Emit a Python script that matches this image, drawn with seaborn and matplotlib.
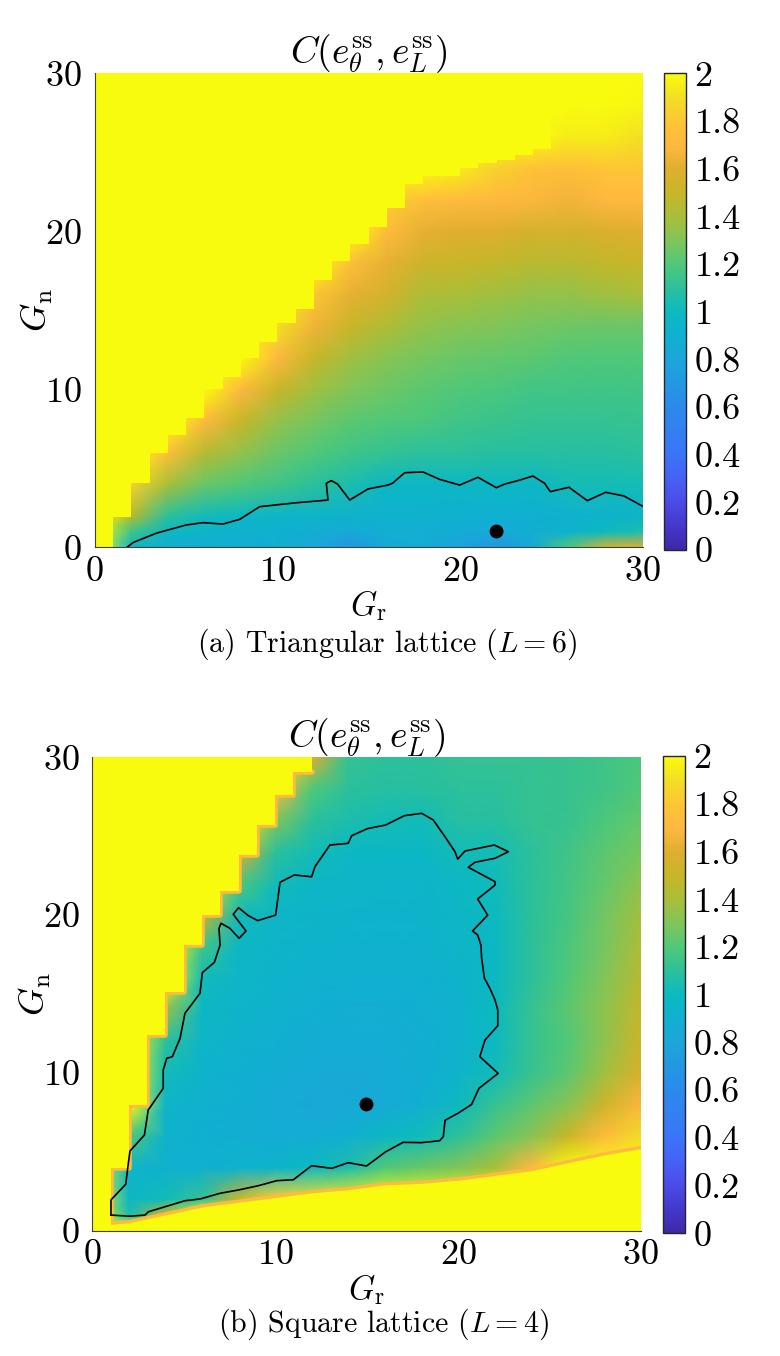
import numpy as np
import matplotlib
matplotlib.use("Agg")
import matplotlib.pyplot as plt
import seaborn as sns
from matplotlib.colors import LinearSegmentedColormap

# grid nodes of the two maps (G_r across, G_n up)
gr_nodes = [0, 2, 4, 6, 8, 10, 12, 14, 16, 18, 20, 22, 24, 26, 28, 30]
gn_nodes = [0, 1, 2, 4, 6, 8, 10, 12, 14, 16, 18, 20, 22, 24, 26, 28, 30]

# C(e_theta, e_L), rows from G_n = 30 (top) down to G_n = 0
c_tri = [
    [2, 2, 2, 2, 2, 2, 2, 2, 2, 2, 2, 2, 2, 2, 2, 2],
    [2, 2, 2, 2, 2, 2, 2, 2, 2, 2, 2, 2, 2, 2, 2, 1.98],
    [2, 2, 2, 2, 2, 2, 2, 2, 2, 2, 2, 2, 2, 1.95, 1.95, 1.9],
    [2, 2, 2, 2, 2, 2, 2, 2, 2, 2, 1.95, 1.85, 1.78, 1.75, 1.8, 1.8],
    [2, 2, 2, 2, 2, 2, 2, 2, 1.85, 1.75, 1.72, 1.7, 1.68, 1.66, 1.7, 1.7],
    [2, 2, 2, 2, 2, 2, 2, 2, 1.72, 1.62, 1.6, 1.6, 1.55, 1.55, 1.58, 1.6],
    [2, 2, 2, 2, 2, 2, 2, 1.75, 1.62, 1.52, 1.5, 1.48, 1.45, 1.45, 1.48, 1.5],
    [2, 2, 2, 2, 2, 2, 1.8, 1.62, 1.55, 1.42, 1.4, 1.38, 1.35, 1.35, 1.38, 1.4],
    [2, 2, 2, 2, 2, 1.9, 1.65, 1.5, 1.42, 1.35, 1.32, 1.3, 1.28, 1.26, 1.25, 1.25],
    [2, 2, 2, 2, 2, 1.7, 1.5, 1.38, 1.32, 1.28, 1.25, 1.24, 1.22, 1.2, 1.2, 1.2],
    [2, 2, 2, 2, 1.7, 1.5, 1.38, 1.3, 1.26, 1.22, 1.2, 1.18, 1.16, 1.16, 1.15, 1.16],
    [2, 2, 2, 1.7, 1.5, 1.35, 1.28, 1.22, 1.2, 1.18, 1.15, 1.14, 1.12, 1.12, 1.12, 1.13],
    [2, 2, 1.75, 1.45, 1.35, 1.25, 1.2, 1.15, 1.12, 1.1, 1.1, 1.08, 1.08, 1.08, 1.08, 1.1],
    [2, 1.85, 1.4, 1.25, 1.2, 1.15, 1.1, 1.05, 0.97, 0.97, 0.97, 0.98, 0.97, 1.03, 1.03, 1.03],
    [2, 1.45, 1.1, 1.02, 0.98, 0.96, 0.94, 0.92, 0.92, 0.92, 0.9, 0.9, 0.9, 0.92, 0.92, 0.94],
    [2, 1.15, 0.97, 0.94, 0.92, 0.9, 0.88, 0.85, 0.88, 0.88, 0.86, 0.85, 0.88, 0.92, 1.0, 1.05],
    [2, 0.95, 0.88, 0.88, 0.88, 0.88, 0.82, 0.68, 0.85, 0.86, 0.78, 0.68, 0.85, 1.2, 1.55, 1.6],
]

c_sq = [
    [2, 2, 2, 2, 2, 2, 1.6, 1.12, 1.1, 1.1, 1.12, 1.12, 1.12, 1.13, 1.15, 1.18],
    [2, 2, 2, 2, 2, 1.7, 1.2, 1.1, 1.08, 1.08, 1.1, 1.1, 1.12, 1.13, 1.15, 1.2],
    [2, 2, 2, 2, 2, 1.3, 1.1, 1.05, 1.03, 1.02, 1.08, 1.08, 1.12, 1.13, 1.18, 1.24],
    [2, 2, 2, 2, 1.6, 1.1, 1.03, 0.98, 0.97, 0.97, 1.02, 1.03, 1.1, 1.15, 1.22, 1.28],
    [2, 2, 2, 2, 1.2, 1.02, 0.97, 0.95, 0.94, 0.94, 0.98, 1.01, 1.1, 1.16, 1.24, 1.33],
    [2, 2, 2, 1.5, 1.02, 0.96, 0.94, 0.93, 0.93, 0.93, 0.96, 1.0, 1.1, 1.17, 1.27, 1.38],
    [2, 2, 2, 1.15, 0.97, 0.94, 0.93, 0.92, 0.92, 0.92, 0.95, 0.98, 1.1, 1.18, 1.28, 1.42],
    [2, 2, 2, 1.02, 0.95, 0.93, 0.91, 0.9, 0.9, 0.9, 0.93, 0.98, 1.1, 1.2, 1.3, 1.45],
    [2, 2, 1.35, 0.98, 0.94, 0.92, 0.89, 0.88, 0.88, 0.89, 0.92, 1.0, 1.12, 1.22, 1.33, 1.48],
    [2, 2, 1.1, 0.95, 0.92, 0.89, 0.87, 0.86, 0.86, 0.88, 0.92, 0.99, 1.12, 1.2, 1.33, 1.52],
    [2, 2, 1.02, 0.93, 0.9, 0.87, 0.85, 0.84, 0.85, 0.88, 0.93, 1.02, 1.13, 1.22, 1.38, 1.56],
    [2, 2, 0.95, 0.91, 0.88, 0.85, 0.83, 0.83, 0.85, 0.89, 0.99, 1.12, 1.22, 1.32, 1.52, 1.68],
    [2, 1.2, 0.93, 0.9, 0.88, 0.86, 0.86, 0.89, 0.97, 1.01, 1.1, 1.22, 1.32, 1.5, 1.72, 1.88],
    [2, 0.95, 0.9, 0.9, 0.92, 0.93, 0.98, 1.05, 1.2, 1.25, 1.3, 1.4, 1.7, 2, 2, 2],
    [2, 0.97, 1.02, 1.12, 1.5, 1.85, 1.9, 1.95, 2, 2, 2, 2, 2, 2, 2, 2],
    [2, 1.05, 1.5, 2, 2, 2, 2, 2, 2, 2, 2, 2, 2, 2, 2, 2],
    [2, 2, 2, 2, 2, 2, 2, 2, 2, 2, 2, 2, 2, 2, 2, 2],
]

# G_n above which column [k, k+1) is saturated (>= 2)
tri_step = [0, 1.94, 4.05, 5.95, 7.1, 8.2, 10.0, 10.8, 12.0, 13.0, 14.2, 15.1, 16.9, 18.1, 19.2,
            20.3, 21.5, 23.0, 23.5, 23.5, 24.0, 24.3, 24.5, 24.8, 25.2]
sq_step = [0, 4.0, 7.95, 12.4, 15.1, 18.1, 20.0, 21.5, 23.8, 25.7, 27.6, 29.1]
# square lattice: saturated below this edge
sq_floor_gr = [0, 1, 2, 4, 6, 8, 10, 12, 14, 16, 18, 20, 22, 24, 26, 28, 30]
sq_floor_gn = [0.4, 0.4, 0.5, 1.0, 1.5, 1.8, 2.1, 2.4, 2.6, 2.9, 3.0, 3.2, 3.5, 3.8, 4.3, 4.8, 5.2]

# C = 1 contour
tri_cont_gr = [1.77, 2.1, 3.37, 5.0, 5.93, 7.02, 7.94, 9.03, 11.04, 12.77, 12.68, 12.95, 13.3, 13.96,
               14.96, 16.05, 16.3, 16.97, 17.97, 18.88, 19.98, 20.98, 21.99, 22.44, 23.17, 23.99,
               24.63, 24.94, 25.96, 26.97, 27.97, 28.97, 29.98]
tri_cont_gn = [0.0, 0.3, 0.89, 1.41, 1.56, 1.47, 1.77, 2.57, 2.82, 2.99, 4.05, 4.22, 4.0, 2.99,
               3.69, 3.94, 4.05, 4.72, 4.77, 4.3, 3.94, 4.43, 3.77, 4.0, 4.22, 4.51,
               4.05, 3.52, 3.8, 2.95, 3.48, 3.25, 2.61]
sq_cont_gr = [1.02, 2.06, 2.88, 3.07, 3.98, 5.07, 5.89, 6.99, 7.99, 9.08, 10.09, 11.0, 12.0, 13.1,
              14.0, 15.0, 16.05, 17.0, 18.0, 19.0, 19.2, 19.3, 20.0, 20.75, 21.15, 22.2, 21.2,
              21.48, 22.18, 22.18, 22.03, 21.75, 21.45, 21.3, 21.26, 21.08, 20.8, 21.63, 21.08,
              22.03, 22.03, 20.57, 20.94, 22.03, 22.76, 21.99, 20.39, 19.99, 19.84, 19.29, 18.65,
              18.02, 17.07, 16.05, 15.05, 14.19, 14.0, 13.0, 12.18, 12.0, 11.05, 10.27, 10.03,
              9.05, 8.54, 8.0, 7.71, 8.41, 8.03, 7.53, 7.04, 6.93, 6.99, 6.68, 6.02, 5.89, 5.07,
              4.8, 4.38, 4.07, 3.88, 3.88, 3.06, 2.85, 2.06, 1.94, 1.83, 1.02, 1.02]
sq_cont_gn = [0.99, 0.92, 0.99, 1.2, 1.52, 1.9, 2.01, 2.37, 2.58, 2.85, 3.17, 3.23, 4.12, 3.95,
              4.31, 4.1, 5.0, 5.6, 5.58, 5.7, 5.96, 7.0, 7.44, 8.0, 9.02, 9.97, 11.03,
              12.08, 12.99, 13.99, 14.62, 15.36, 16.0, 17.26, 18.1, 18.74, 18.99, 20.0, 21.02,
              21.9, 22.12, 23.03, 23.35, 23.6, 24.02, 24.44, 24.06, 23.55, 24.02, 24.97, 26.03,
              26.45, 26.3, 25.71, 25.48, 25.03, 24.55, 24.44, 23.07, 22.43, 22.54, 22.08, 20.0,
              19.65, 19.96, 20.47, 20.05, 18.99, 18.53, 19.16, 19.48, 19.16, 18.1, 17.01, 16.35,
              15.04, 13.78, 12.19, 11.03, 10.92, 10.18, 9.02, 7.65, 6.06, 5.05, 3.99, 2.94,
              1.95, 0.99]

tri_dot = (22, 1)
sq_dot = (15, 8)

axis_ticks = [0, 10, 20, 30]
cb_ticks = [0, 0.2, 0.4, 0.6, 0.8, 1, 1.2, 1.4, 1.6, 1.8, 2]

# parula-like colours, evenly spaced from 0 to 1
parula_hex = ["#3E28A8", "#4438CC", "#4A4CE8", "#4562F5", "#3A74F9", "#3380F2", "#2B8AEB",
              "#2398E2", "#1CA6DA", "#10B0D0", "#0BBAC0", "#2DC09A", "#50C878", "#80C55A",
              "#A8BF3A", "#C8B628", "#E0AE30", "#FFB840", "#FDC535", "#F2DE25", "#F9FB0E"]

sns.set_theme(style="white")
plt.rcParams.update({
    "font.family": "serif",
    "font.serif": ["cmr10"],
    "mathtext.fontset": "cm",
    "axes.formatter.use_mathtext": True,
    "axes.unicode_minus": False,
    "text.color": "black",
    "axes.labelcolor": "black",
    "xtick.color": "black",
    "ytick.color": "black",
})

parula = LinearSegmentedColormap.from_list("parula", parula_hex)
yellow = parula(1.0)
orange = parula(0.86)

fig = plt.figure(figsize=(7.8, 13.56), dpi=100)
W, H = 780.0, 1356.0


def panel(ax_box, cax_box, grid, steps, cont, dot, caption, cap_xy, floor=None, rim=False):
    ax = fig.add_axes(ax_box)
    cax = fig.add_axes(cax_box)
    z = np.flipud(np.array(grid, dtype=float))
    mesh = ax.pcolormesh(gr_nodes, gn_nodes, z, shading="gouraud", cmap=parula,
                         vmin=0, vmax=2, zorder=0)
    xs = list(range(len(steps) + 1))
    ys = steps + steps[-1:]
    if rim:
        # thin orange rim just outside the saturated region
        ax.plot(xs, ys, drawstyle="steps-post", color=orange, lw=4, zorder=0.5)
    ax.fill_between(xs, ys, 30, step="post", color=yellow, lw=0, zorder=1)
    if floor is not None:
        if rim:
            ax.plot(floor[0], floor[1], color=orange, lw=4, zorder=0.5)
        ax.fill_between(floor[0], 0, floor[1], color=yellow, lw=0, zorder=1)
    sns.lineplot(x=cont[0], y=cont[1], sort=False, estimator=None, color="black",
                 lw=1.2, ax=ax, zorder=3)
    sns.scatterplot(x=[dot[0]], y=[dot[1]], s=100, color="black", edgecolor="none",
                    ax=ax, zorder=4)

    ax.set_xlim(0, 30)
    ax.set_ylim(0, 30)
    ax.set_xticks(axis_ticks)
    ax.set_yticks(axis_ticks)
    ax.tick_params(axis="both", length=0, labelsize=26)
    ax.tick_params(axis="x", pad=6.5)
    ax.tick_params(axis="y", pad=9.4)
    for s in ["top", "right"]:
        ax.spines[s].set_visible(False)
    for s in ["left", "bottom"]:
        ax.spines[s].set_color("0.25")
        ax.spines[s].set_linewidth(0.8)

    ax.set_title(r"$C(e_\theta^{\mathrm{ss}},e_L^{\mathrm{ss}})$", fontsize=27, y=1.021, pad=0)
    ax.set_xlabel(r"$G_\mathrm{r}$", fontsize=24)
    ax.set_ylabel(r"$G_\mathrm{n}$", fontsize=26)
    ax.xaxis.set_label_coords(0.5, -0.087)
    ax.yaxis.set_label_coords(-0.072, 0.5)

    cb = fig.colorbar(mesh, cax=cax, ticks=cb_ticks)
    cb.set_ticklabels([f"{t:g}" for t in cb_ticks])
    cb.outline.set_linewidth(1.0)
    cb.outline.set_edgecolor("0.15")
    cax.tick_params(direction="in", length=4.5, width=0.8, labelsize=26, pad=6,
                    right=True, left=False)

    fig.text(cap_xy[0] / W, 1 - cap_xy[1] / H, caption, ha="center", va="baseline",
             fontsize=21.5)


panel([94.7 / W, 1 - 547.3 / H, 548 / W, 474 / H],
      [664.3 / W, 1 - 550 / H, 21.7 / W, 476.7 / H],
      c_tri, tri_step, (tri_cont_gr, tri_cont_gn), tri_dot,
      r"(a) Triangular lattice ($L=6$)", (386.5, 652))

panel([92.3 / W, 1 - 1230.7 / H, 548.4 / W, 473.4 / H],
      [663.3 / W, 1 - 1233.3 / H, 21.7 / W, 477.3 / H],
      c_sq, sq_step, (sq_cont_gr, sq_cont_gn), sq_dot,
      r"(b) Square lattice ($L=4$)", (383, 1332),
      floor=(sq_floor_gr, sq_floor_gn), rim=True)

fig.savefig("out.png", dpi=100)
